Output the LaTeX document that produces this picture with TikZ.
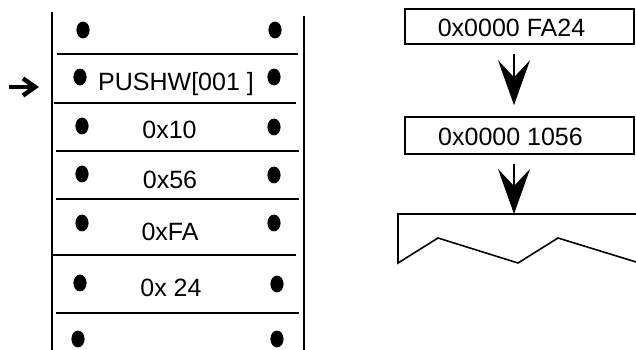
\documentclass[tikz,border=0pt]{standalone}
\usepackage{fontspec}
\setmainfont{Liberation Sans}
\usetikzlibrary{arrows.meta}
\begin{document}
\begin{tikzpicture}[x=1pt,y=-1pt,
  every node/.style={font=\fontsize{25}{30}\selectfont, inner sep=0pt},
  dotfill/.style={fill=black, draw=none},
  sepline/.style={line width=1.9pt},
  wall/.style={line width=2.2pt},
  membox/.style={draw, line width=1.6pt, minimum width=229pt},
  bigarrow/.style={line width=1.6pt, -{Stealth[length=45pt,width=32pt,inset=17pt]}},
  pointer/.style={line width=4.5pt},
]
\useasboundingbox (0,0) rectangle (636,350);

% stack walls
\draw[wall] (52,12) -- (52,352);
\draw[wall] (304,16) -- (304,352);

% separators
\draw[sepline] (57,54) -- (298,54);
\draw[sepline] (54,103) -- (296,103);
\draw[sepline] (56,151) -- (299,151);
\draw[sepline] (56,199) -- (299,199);
\draw[sepline] (53,255) -- (296,255);
\draw[sepline] (56,313) -- (299,313);

% dots
\foreach \lx/\ly/\rx/\ry in {83/30/275/30, 80/77/274/77, 82/126/274/127,
  82/174/274/175, 82/223/274/223, 80/283/277/284, 78/339/277/339}{
  \fill[dotfill] (\lx,\ly) ellipse [x radius=6.6pt, y radius=8.4pt];
  \fill[dotfill] (\rx,\ry) ellipse [x radius=6.6pt, y radius=8.4pt];
}

% stack texts
\node[anchor=base] (s1) at (176,91) {PUSHW[001 ]};
\node[anchor=base] (s2) at (169.5,138) {0x10};
\node[anchor=base] (s3) at (170,188) {0x56};
\node[anchor=base] (s4) at (170,240) {0xFA};
\node[anchor=base] (s5) at (171,296) {0x 24};

% pointer arrow
\coordinate (pa) at (9,87);
\coordinate (pb) at (35,87);
\draw[pointer] (pa) -- (pb);
\draw[pointer, miter limit=10] ([shift={(-12,-8.5)}]pb) -- (pb) -- ([shift={(-12,8.5)}]pb);

% right side boxes
\node[membox, minimum height=35pt] (b1) at (519.5,26.5) {};
\node[anchor=base] (t1) at (511.5,37) {0x0000 FA24};
\node[membox, minimum height=37pt] (b2) at (519.5,135.5) {};
\node[anchor=base] (t2) at (510.5,145) {0x0000 1056};

% document shape
\coordinate (doc) at (514,214);
\draw[line width=1.6pt, line join=miter] (640,214) -- (398,214) -- (398,263) -- (438,238)
  -- (518,263) -- (558,238) -- (640,263.2);

% arrows
\coordinate (ax) at (514,0);
\draw[bigarrow, shorten <=9pt, shorten >=11pt] (b1.south -| ax) -- (b2.north -| ax);
\draw[bigarrow, shorten <=9pt] (b2.south -| ax) -- (doc);
\end{tikzpicture}
\end{document}
